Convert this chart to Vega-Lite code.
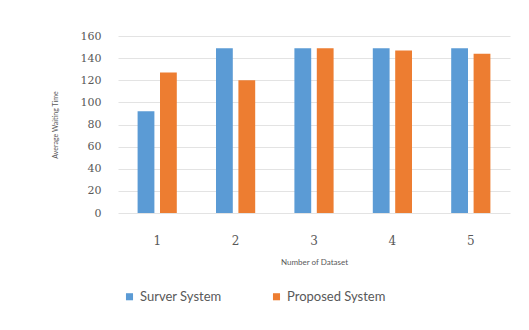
{
  "$schema": "https://vega.github.io/schema/vega-lite/v6.json",
  "autosize": "none",
  "width": 392,
  "height": 177,
  "padding": {"left": 118, "top": 36, "right": 19, "bottom": 117},
  "background": "white",
  "config": {"view": {"stroke": null}},
  "data": {
    "values": [
      {"dataset": "1", "system": "Surver System", "time": 92},
      {"dataset": "1", "system": "Proposed System", "time": 127},
      {"dataset": "2", "system": "Surver System", "time": 149},
      {"dataset": "2", "system": "Proposed System", "time": 120},
      {"dataset": "3", "system": "Surver System", "time": 149},
      {"dataset": "3", "system": "Proposed System", "time": 149},
      {"dataset": "4", "system": "Surver System", "time": 149},
      {"dataset": "4", "system": "Proposed System", "time": 147},
      {"dataset": "5", "system": "Surver System", "time": 149},
      {"dataset": "5", "system": "Proposed System", "time": 144}
    ]
  },
  "mark": {"type": "bar"},
  "encoding": {
    "x": {
      "field": "dataset", "type": "nominal",
      "scale": {"paddingInner": 0.5, "paddingOuter": 0.25},
      "axis": {
        "title": "Number of Dataset", "labelAngle": 0, "domain": false, "ticks": false,
        "labelPadding": 22, "labelFont": "DejaVu Serif", "labelFontSize": 12, "labelColor": "#595959",
        "titleFont": "Lato", "titleFontSize": 8, "titleFontWeight": "normal", "titleColor": "#595959", "titlePadding": 12
      }
    },
    "xOffset": {"field": "system", "type": "nominal", "sort": ["Surver System", "Proposed System"], "scale": {"paddingInner": 0.25}},
    "y": {
      "field": "time", "type": "quantitative",
      "scale": {"domain": [0, 160]},
      "axis": {
        "title": "Average Waiting Time", "values": [0,20,40,60,80,100,120,140,160],
        "labelOverlap": false,
        "domain": false, "ticks": false, "labelPadding": 17, "gridColor": "#e3e3e3",
        "labelFont": "DejaVu Serif", "labelFontSize": 11, "labelColor": "#595959",
        "titleFont": "Lato", "titleFontSize": 7, "titleFontWeight": "normal", "titleColor": "#595959", "titlePadding": 22
      }
    },
    "color": {
      "field": "system", "type": "nominal",
      "sort": ["Surver System", "Proposed System"],
      "scale": {"domain": ["Surver System", "Proposed System"], "range": ["#5b9bd5", "#ed7d31"]},
      "legend": {
        "title": null, "orient": "none", "direction": "horizontal", "legendX": 5, "legendY": 254,
        "symbolType": "square", "symbolSize": 50, "symbolStrokeWidth": 0, "columnPadding": 48,
        "labelFont": "Lato", "labelFontSize": 13, "labelColor": "#595959"
      }
    }
  }
}
